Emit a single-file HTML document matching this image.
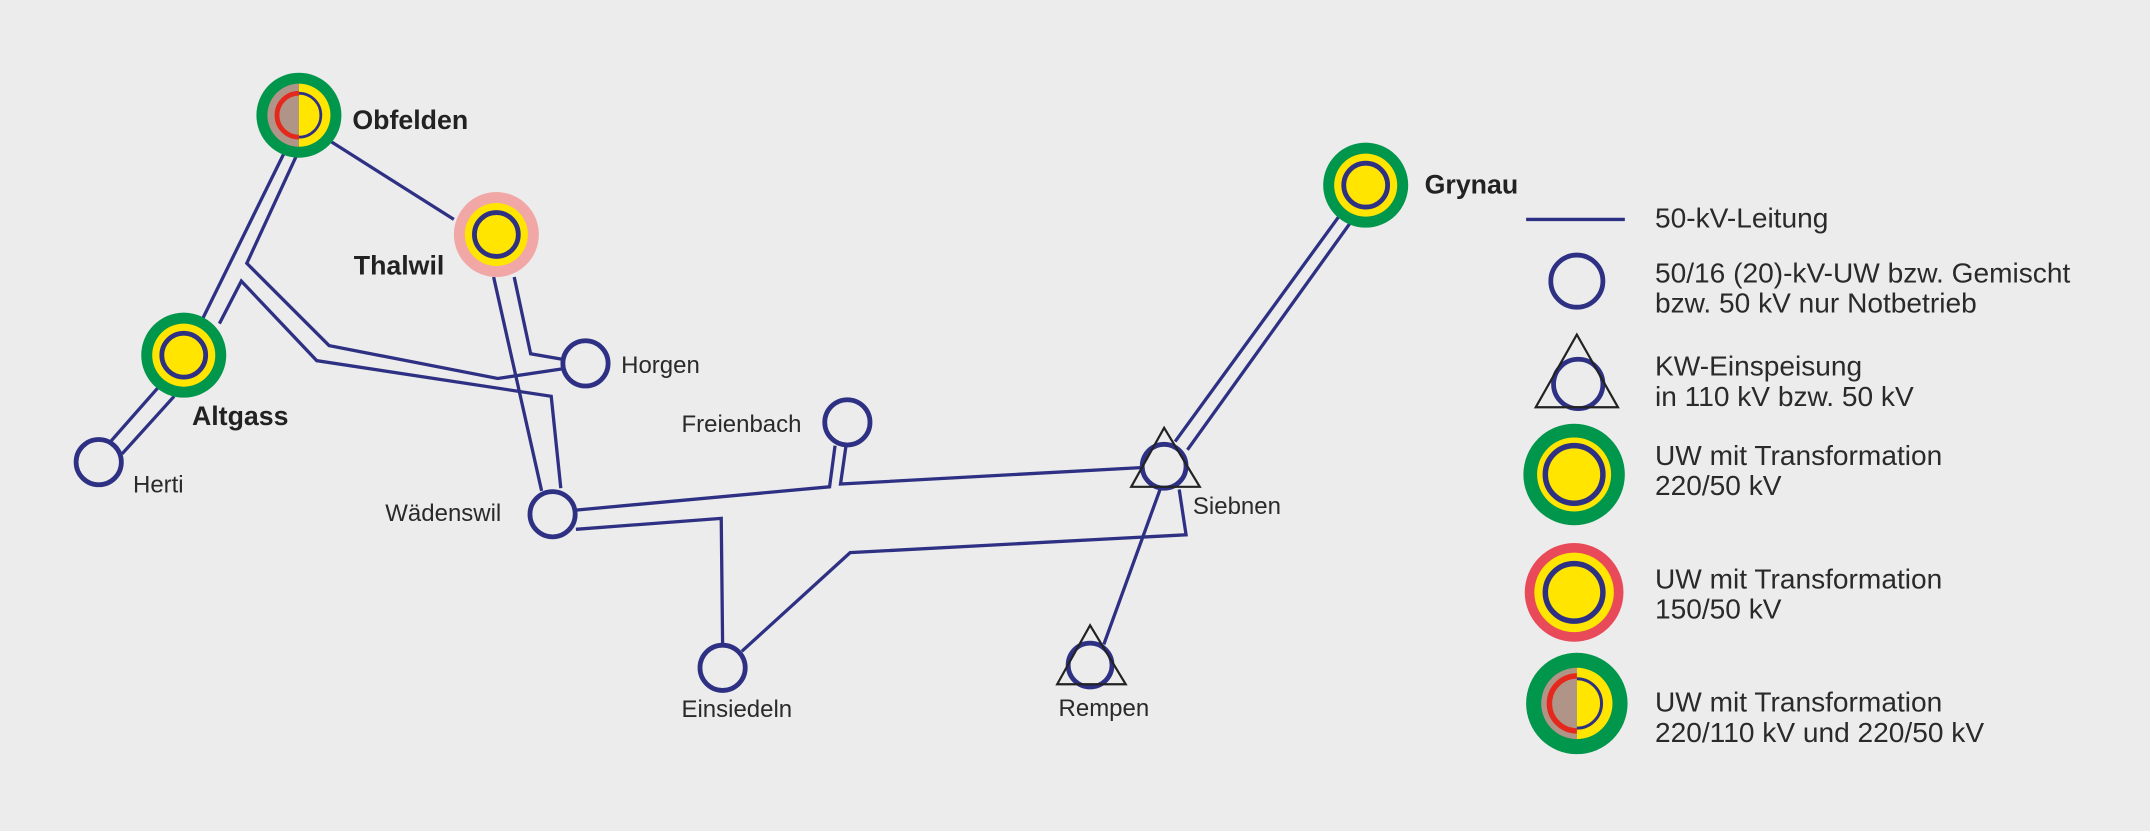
<!DOCTYPE html>
<html><head><meta charset="utf-8"><style>
html,body{margin:0;padding:0;background:#ececec;}
svg{display:block}
text{font-family:"Liberation Sans",sans-serif;fill:#222}
.b{font-weight:bold;font-size:19.5px}
.s{font-size:17.5px;fill:#2a2a2a}
.l{font-size:20.5px;fill:#2a2a2a}
</style></head><body>
<svg width="2150" height="831" viewBox="0 0 1568 606" xmlns="http://www.w3.org/2000/svg">
<rect width="1568" height="606" fill="#ececec"/>
<g fill="none" stroke="#2e3183" stroke-width="2.4" stroke-linejoin="miter">
<polyline points="207,112 148,232"/>
<polyline points="216,114 180,192 240,252 363,276 410,269"/>
<polyline points="160,236 176,205 231,263 402,289 409,356"/>
<line x1="115" y1="283" x2="78" y2="325"/>
<line x1="127" y1="289" x2="89" y2="331"/>
<line x1="241" y1="103" x2="331" y2="160"/>
<line x1="360" y1="202" x2="395" y2="358"/>
<polyline points="375,202 387,258 410,262"/>
<polyline points="420,372 605,355 609,325"/>
<polyline points="617,325 613,353 832,341"/>
<polyline points="420,386 526,378 527,470"/>
<polyline points="541,475 620,403 865,390 860,357"/>
<line x1="846" y1="357" x2="805" y2="470"/>
<line x1="857" y1="322" x2="980" y2="153"/>
<line x1="866" y1="328" x2="988" y2="158"/>
<line x1="1113" y1="160" x2="1185" y2="160"/>
</g>
<g fill="#ececec" stroke="#2e3183" stroke-width="3.5">
<circle cx="72" cy="337" r="16.5"/>
<circle cx="427" cy="265" r="16.5"/>
<circle cx="618" cy="308" r="16.5"/>
<circle cx="403" cy="375" r="16.5"/>
<circle cx="527" cy="487" r="16.5"/>
<circle cx="849" cy="340" r="16"/>
<circle cx="795" cy="485" r="16"/>
<circle cx="1150" cy="205" r="19"/>
<circle cx="1151" cy="280" r="18"/>
</g>
<g fill="none" stroke="#222" stroke-width="1.6">
<polygon points="849,312 825,355 875,355"/>
<polygon points="795,456 771,499 821,499"/>
<polygon points="1150,244 1120,297 1180,297"/>
</g>
<g>
<circle cx="134" cy="259" r="31" fill="#00964b"/><circle cx="134" cy="259" r="23" fill="#ffe500"/><circle cx="134" cy="259" r="16" fill="#ffe500" stroke="#2e3183" stroke-width="3.5"/>
<circle cx="996" cy="135" r="31" fill="#00964b"/><circle cx="996" cy="135" r="23" fill="#ffe500"/><circle cx="996" cy="135" r="16" fill="#ffe500" stroke="#2e3183" stroke-width="3.5"/>
<circle cx="362" cy="171" r="31" fill="#f2a7a7"/><circle cx="362" cy="171" r="23" fill="#ffe500"/><circle cx="362" cy="171" r="16" fill="#ffe500" stroke="#2e3183" stroke-width="3.5"/>
<circle cx="1148" cy="346" r="37" fill="#00964b"/><circle cx="1148" cy="346" r="27" fill="#ffe500"/><circle cx="1148" cy="346" r="21" fill="#ffe500" stroke="#2e3183" stroke-width="4"/>
<circle cx="1148" cy="432" r="36" fill="#e94a5a"/><circle cx="1148" cy="432" r="29" fill="#ffe500"/><circle cx="1148" cy="432" r="21" fill="#ffe500" stroke="#2e3183" stroke-width="4"/>
</g>
<g>
<circle cx="218" cy="84" r="31" fill="#00964b"/>
<path d="M218,61 A23,23 0 0 0 218,107 Z" fill="#b09488"/>
<path d="M218,61 A23,23 0 0 1 218,107 Z" fill="#ffe500"/>
<path d="M218,68 A16,16 0 0 0 218,100" fill="none" stroke="#e4281b" stroke-width="3.5"/>
<path d="M218,68 A16,16 0 0 1 218,100" fill="none" stroke="#2e3183" stroke-width="2"/>
<circle cx="1150" cy="513" r="37" fill="#00964b"/>
<path d="M1150,487 A26,26 0 0 0 1150,539 Z" fill="#b09488"/>
<path d="M1150,487 A26,26 0 0 1 1150,539 Z" fill="#ffe500"/>
<path d="M1150,493 A20,20 0 0 0 1150,533" fill="none" stroke="#e4281b" stroke-width="4"/>
<path d="M1150,495 A18,18 0 0 1 1150,531" fill="none" stroke="#2e3183" stroke-width="2.2"/>
</g>
<text class="b" x="257" y="94">Obfelden</text>
<text class="b" x="258" y="200">Thalwil</text>
<text class="b" x="140" y="310">Altgass</text>
<text class="b" x="1039" y="141">Grynau</text>
<text class="s" x="97" y="359">Herti</text>
<text class="s" x="453" y="272">Horgen</text>
<text class="s" x="497" y="315">Freienbach</text>
<text class="s" x="281" y="380">Wädenswil</text>
<text class="s" x="497" y="523">Einsiedeln</text>
<text class="s" x="772" y="522">Rempen</text>
<text class="s" x="870" y="375">Siebnen</text>
<text class="l" x="1207" y="166">50-kV-Leitung</text>
<text class="l" x="1207" y="206">50/16 (20)-kV-UW bzw. Gemischt</text>
<text class="l" x="1207" y="228">bzw. 50 kV nur Notbetrieb</text>
<text class="l" x="1207" y="274">KW-Einspeisung</text>
<text class="l" x="1207" y="296">in 110 kV bzw. 50 kV</text>
<text class="l" x="1207" y="339">UW mit Transformation</text>
<text class="l" x="1207" y="361">220/50 kV</text>
<text class="l" x="1207" y="429">UW mit Transformation</text>
<text class="l" x="1207" y="451">150/50 kV</text>
<text class="l" x="1207" y="519">UW mit Transformation</text>
<text class="l" x="1207" y="541">220/110 kV und 220/50 kV</text>
</svg>
</body></html>
